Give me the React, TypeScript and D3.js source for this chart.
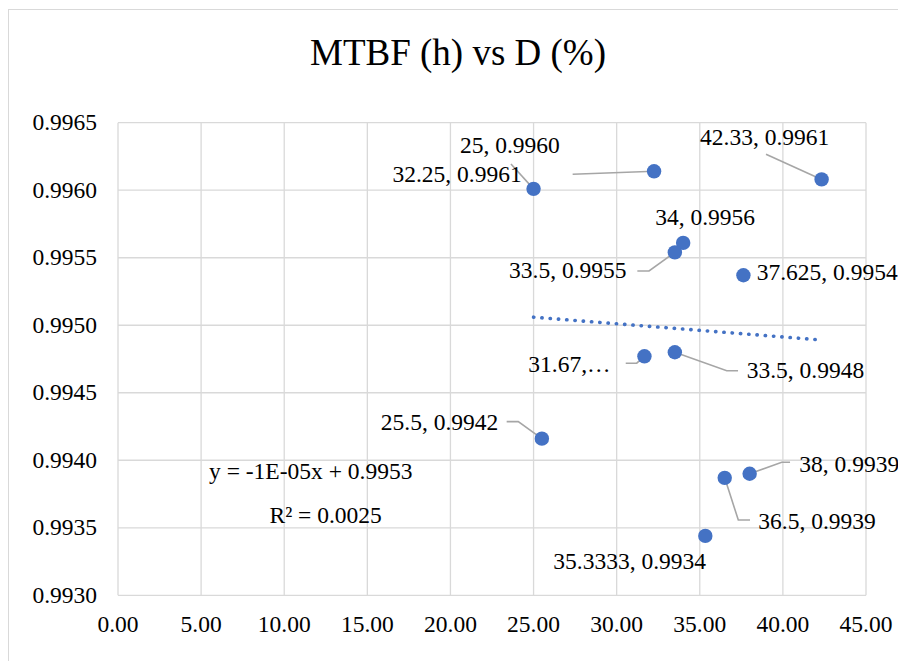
import React from "react";
import * as d3 from "d3";

// ---- data ----
const dValues = [25, 32.25, 42.33, 34, 33.5, 37.625, 31.67, 33.5, 25.5, 36.5, 38, 35.3333];
const mtbfValues = [0.99601, 0.99614, 0.99608, 0.99561, 0.99554, 0.99537, 0.99477, 0.9948, 0.99416, 0.99387, 0.9939, 0.99344];
const pointLabels = [
  "25, 0.9960",
  "32.25, 0.9961",
  "42.33, 0.9961",
  "34, 0.9956",
  "33.5, 0.9955",
  "37.625, 0.9954",
  "31.67,…",
  "33.5, 0.9948",
  "25.5, 0.9942",
  "36.5, 0.9939",
  "38, 0.9939",
  "35.3333, 0.9934",
];
const xTickValues = [0, 5, 10, 15, 20, 25, 30, 35, 40, 45];
const yTickValues = [0.993, 0.9935, 0.994, 0.9945, 0.995, 0.9955, 0.996, 0.9965];
const title = "MTBF (h) vs D (%)";
const trendEquation = "y = -1E-05x + 0.9953";
const trendR2 = "R² = 0.0025";

// ---- layout (label placement relative to each point) ----
type LabelPos = { dx: number; dy: number; anchor: "start" | "end"; leader: [number, number][] };
const labelLayout: LabelPos[] = [
  { dx: -73.6, dy: -36.2, anchor: "start", leader: [[-22.6, -24.9], [0, 0]] },
  { dx: -132.4, dy: 10.4, anchor: "end", leader: [[-81.4, 3], [0, 0]] },
  { dx: -121.6, dy: -34.4, anchor: "start", leader: [[-55.6, -25.1], [0, 0]] },
  { dx: -28, dy: -18, anchor: "start", leader: [] },
  { dx: -165.8, dy: 25.6, anchor: "start", leader: [[-37.5, 18.6], [-25.8, 18.6], [0, 0]] },
  { dx: 13.3, dy: 4.6, anchor: "start", leader: [] },
  { dx: -116.1, dy: 15.3, anchor: "start", leader: [[-18.7, 6.9], [-7.7, 6.9], [0, 0]] },
  { dx: 71.9, dy: 25.8, anchor: "start", leader: [[0, 0], [51.9, 18.5], [63.2, 18.5]] },
  { dx: -43.6, dy: -8.7, anchor: "end", leader: [[-35.2, -17], [-23.6, -17], [0, 0]] },
  { dx: 33.6, dy: 51.5, anchor: "start", leader: [[0, 0], [13.6, 42.2], [25.3, 42.2]] },
  { dx: 49.7, dy: -2.1, anchor: "start", leader: [[0, 0], [32.1, -11.5], [40.4, -11.5]] },
  { dx: -152, dy: 33.4, anchor: "start", leader: [] },
];

const W = 898;
const H = 661;
const plot = { left: 118, right: 866, top: 122.7, bottom: 595.3 };
const FONT = "'Liberation Serif', 'Times New Roman', serif";
const BLUE = "#4472C4";
const GRID = "#d9d9d9";

export default function App() {
  const x = d3.scaleLinear().domain([0, 45]).range([plot.left, plot.right]);
  const y = d3.scaleLinear().domain([0.993, 0.9965]).range([plot.bottom, plot.top]);
  const fx = d3.format(".2f");
  const fy = d3.format(".4f");

  // linear regression trendline
  const mx = d3.mean(dValues) as number;
  const my = d3.mean(mtbfValues) as number;
  let sxy = 0, sxx = 0;
  dValues.forEach((v, i) => {
    sxy += (v - mx) * (mtbfValues[i] - my);
    sxx += (v - mx) * (v - mx);
  });
  const slope = sxy / sxx;
  const intercept = my - slope * mx;
  const [xmin, xmax] = d3.extent(dValues) as [number, number];
  const trendPath = d3.line<number>()
    .x((d) => x(d))
    .y((d) => y(intercept + slope * d))([xmin, xmax]);

  const leaderLine = d3.line<[number, number]>().x((d) => d[0]).y((d) => d[1]);

  return (
    <div style={{ position: "absolute", left: 0, top: 0 }}>
      <svg width={W} height={H} style={{ display: "block", background: "#fff" }} fontFamily={FONT}>
        <rect x={8.5} y={9.5} width={W + 20} height={H + 20} fill="#fff" stroke={GRID} strokeWidth={1} />
        <text x={458} y={65} textAnchor="middle" fontSize={37} fill="#000">{title}</text>

        {/* gridlines */}
        {yTickValues.map((t) => (
          <line key={"gy" + t} x1={plot.left} x2={plot.right} y1={y(t)} y2={y(t)} stroke={GRID} strokeWidth={1.3} />
        ))}
        {xTickValues.map((t) => (
          <line key={"gx" + t} x1={x(t)} x2={x(t)} y1={plot.top} y2={plot.bottom} stroke={GRID} strokeWidth={1.3} />
        ))}

        {/* tick labels */}
        {yTickValues.map((t) => (
          <text key={"ty" + t} x={97} y={y(t) + 7.5} textAnchor="end" fontSize={23.5} fill="#000">{fy(t)}</text>
        ))}
        {xTickValues.map((t) => (
          <text key={"tx" + t} x={x(t)} y={plot.bottom + 36.5} textAnchor="middle" fontSize={23.5} fill="#000">{fx(t)}</text>
        ))}

        {/* trendline */}
        <path d={trendPath || ""} fill="none" stroke={BLUE} strokeWidth={3.6} strokeDasharray="0.3 8" strokeLinecap="round" />

        {/* leader lines */}
        {dValues.map((v, i) => {
          const L = labelLayout[i];
          if (!L.leader.length) return null;
          const px = x(v), py = y(mtbfValues[i]);
          const pts = L.leader.map((p) => [px + p[0], py + p[1]] as [number, number]);
          return <path key={"ld" + i} d={leaderLine(pts) || ""} fill="none" stroke="#a6a6a6" strokeWidth={1.6} />;
        })}

        {/* points */}
        {dValues.map((v, i) => (
          <circle key={"pt" + i} cx={x(v)} cy={y(mtbfValues[i])} r={7.2} fill={BLUE} />
        ))}

        {/* data labels */}
        {dValues.map((v, i) => {
          const L = labelLayout[i];
          return (
            <text key={"lb" + i} x={x(v) + L.dx} y={y(mtbfValues[i]) + L.dy} textAnchor={L.anchor} fontSize={23.5} fill="#000">
              {pointLabels[i]}
            </text>
          );
        })}

        {/* trendline label */}
        <text x={209} y={478.5} fontSize={23.5} fill="#000">{trendEquation}</text>
        <text x={269.5} y={523.3} fontSize={23.5} fill="#000">{trendR2}</text>
      </svg>
    </div>
  );
}
